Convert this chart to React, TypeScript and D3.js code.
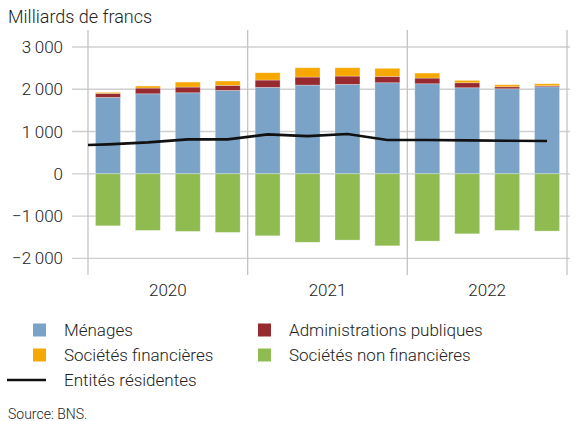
import React from "react";
import * as d3 from "d3";

const quarters = ["2020T1","2020T2","2020T3","2020T4","2021T1","2021T2","2021T3","2021T4","2022T1","2022T2","2022T3","2022T4"];
const years = ["2020","2021","2022"];
const menages = [1808,1893,1917,1973,2045,2099,2116,2154,2130,2036,2012,2059];
const administrations = [95,135,135,119,173,190,196,151,135,118,47,24];
const societesFin = [24,48,118,102,173,220,197,190,118,56,48,47];
const societesNonFin = [-1231,-1340,-1363,-1387,-1467,-1620,-1569,-1704,-1593,-1420,-1340,-1356];
// line incl. 2019T4 (clipped at plot edge)
const lineQuarters = ["2019T4", ...quarters];
const entites = [664,696,743,814,814,933,892,940,798,798,790,781,774];
const yTicks = [-2000,-1000,0,1000,2000,3000];

const COLORS = {
  menages: "#7BA3C7",
  admin: "#962A2F",
  fin: "#F6A800",
  nonfin: "#8FBB50",
};

const FONT = "Roboto, 'Liberation Sans', Arial, sans-serif";

export default function App() {
  const W = 576, H = 421;
  const left = 88, right = 567, top = 30, bottom = 275;
  const x = d3.scaleBand<string>().domain(quarters).range([left, right]).paddingInner(0.375).paddingOuter(0.1875);
  const y = d3.scaleLinear().domain([-2000, 3000]).range([258.3, 47]);
  const yearScale = d3.scaleBand<string>().domain(years).range([left, right]);
  const step = x.step();
  const cx = (q: string, i: number) => (i === 0 ? x(quarters[0])! + x.bandwidth() / 2 - step : x(q)! + x.bandwidth() / 2);
  const linePts: [number, number][] = lineQuarters.map((q, i) => [cx(q, i), y(entites[i])]);
  const line = d3.line();
  const fmt = (v: number) => {
    const s = d3.format(",")(Math.abs(v)).replace(/,/g, "\u2009");
    return (v < 0 ? "\u2212" : "") + s;
  };

  const stacks = quarters.map((q, i) => {
    const m = menages[i], a = administrations[i], f = societesFin[i], n = societesNonFin[i];
    return [
      { y0: 0, y1: m, c: COLORS.menages },
      { y0: m, y1: m + a, c: COLORS.admin },
      { y0: m + a, y1: m + a + f, c: COLORS.fin },
      { y0: n, y1: 0, c: COLORS.nonfin },
    ];
  });

  const legendItems = [
    { label: "Ménages", c: COLORS.menages, col: 0, row: 0 },
    { label: "Administrations publiques", c: COLORS.admin, col: 1, row: 0 },
    { label: "Sociétés financières", c: COLORS.fin, col: 0, row: 1 },
    { label: "Sociétés non financières", c: COLORS.nonfin, col: 1, row: 1 },
  ];
  const legCols = [33, 258];
  const legRows = [330, 355, 380];
  const textColor = "#222";
  const fs = 17;

  return (
    <svg width={W} height={H} style={{ position: "absolute", left: 0, top: 0, fontFamily: FONT }}>
      <defs>
        <clipPath id="plot"><rect x={left} y={top} width={right - left} height={bottom - top} /></clipPath>
      </defs>
      <rect width={W} height={H} fill="#fff" />
      <text x={8} y={23} fontSize={18} fill={textColor} fontWeight={300}>Milliards de francs</text>
      {yTicks.map((t) => (
        <g key={t}>
          <line x1={72} x2={570} y1={y(t)} y2={y(t)} stroke="#cfcfcf" strokeWidth={1.3} />
          <text x={63} y={y(t)} dy="0.36em" textAnchor="end" fontSize={fs} fill={textColor} fontWeight={300}>{fmt(t)}</text>
        </g>
      ))}
      {[0, 1, 2, 3].map((k) => {
        const xv = k < 3 ? yearScale(years[k])! : right;
        return <line key={k} x1={xv} x2={xv} y1={top} y2={bottom} stroke="#c4c4c4" strokeWidth={1.3} />;
      })}
      {stacks.map((segs, i) =>
        segs.map((s, j) => (
          <rect key={i + "-" + j} x={x(quarters[i])} width={x.bandwidth()} y={y(Math.max(s.y0, s.y1))}
            height={Math.abs(y(s.y0) - y(s.y1))} fill={s.c} stroke="#fff" strokeOpacity={0.35} strokeWidth={0.8} />
        ))
      )}
      <path d={line(linePts)!} fill="none" stroke="#111" strokeWidth={2.6} clipPath="url(#plot)" />
      {years.map((yr) => (
        <text key={yr} x={yearScale(yr)! + yearScale.bandwidth() / 2} y={296} textAnchor="middle" fontSize={fs} fill={textColor} fontWeight={300}>{yr}</text>
      ))}
      {legendItems.map((it) => (
        <g key={it.label}>
          <rect x={legCols[it.col]} y={legRows[it.row] - 6.5} width={13} height={13} fill={it.c} />
          <text x={legCols[it.col] + 31} y={legRows[it.row]} dy="0.36em" fontSize={fs} fill={textColor} fontWeight={300}>{it.label}</text>
        </g>
      ))}
      <line x1={7} x2={46} y1={legRows[2]} y2={legRows[2]} stroke="#111" strokeWidth={2.6} />
      <text x={64} y={legRows[2]} dy="0.36em" fontSize={fs} fill={textColor} fontWeight={300}>Entités résidentes</text>
      <text x={8} y={419} fontSize={14} fill={textColor} fontWeight={300}>Source: BNS.</text>
    </svg>
  );
}
